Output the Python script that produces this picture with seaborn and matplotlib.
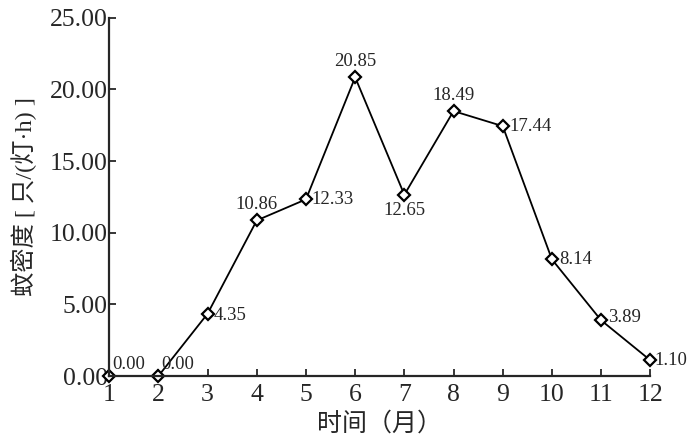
import matplotlib
matplotlib.use("Agg")
import matplotlib.pyplot as plt
import seaborn as sns
import pandas as pd

# Data
months = [1, 2, 3, 4, 5, 6, 7, 8, 9, 10, 11, 12]
density = [0.00, 0.00, 4.35, 10.86, 12.33, 20.85, 12.65, 18.49, 17.44, 8.14, 3.89, 1.10]
y_ticks = [0, 5, 10, 15, 20, 25]

# label placement per point: (dx, dy, ha, va) in points
label_pos = {
    1: (2, 2, "left", "bottom"),
    2: (2, 2, "left", "bottom"),
    3: (4, -1, "left", "center"),
    4: (0, 5, "center", "bottom"),
    5: (4, 0, "left", "center"),
    6: (0, 5, "center", "bottom"),
    7: (0, -5, "center", "top"),
    8: (0, 5, "center", "bottom"),
    9: (5, 0, "left", "center"),
    10: (5, 0, "left", "center"),
    11: (5, 2, "left", "center"),
    12: (3, 0, "left", "center"),
}

sns.set_style("ticks")
plt.rcParams["font.family"] = ["Liberation Serif", "Noto Sans CJK SC"]

df = pd.DataFrame({"month": months, "density": density})

fig = plt.figure(figsize=(7, 4.45), dpi=100)
ax = fig.add_axes([0.156, 0.155, 0.773, 0.805])

sns.lineplot(data=df, x="month", y="density", ax=ax, color="black", linewidth=1.3,
             marker="D", markersize=6, markerfacecolor="white",
             markeredgecolor="black", markeredgewidth=1.6)

for m, v in zip(months, density):
    dx, dy, ha, va = label_pos[m]
    ax.annotate(f"{v:.2f}", (m, v), xytext=(dx, dy), textcoords="offset points",
                ha=ha, va=va, fontsize=13.5)

ax.set_xlim(1, 12)
ax.set_ylim(0, 25)
ax.set_xticks(months)
ax.set_yticks(y_ticks)
ax.set_yticklabels([f"{t:.2f}" for t in y_ticks])
ax.tick_params(direction="in", length=5, width=1.3, labelsize=18.5)
ax.tick_params(axis="y", pad=1)
ax.tick_params(axis="x", pad=6)
ax.set_xlabel("时间（月）", fontsize=18, labelpad=4)
ax.set_ylabel("蚊密度 [ 只/(灯·h) ]", fontsize=17.5, labelpad=9)
for s in ["left", "bottom"]:
    ax.spines[s].set_linewidth(1.6)
sns.despine(ax=ax)
for line in ax.lines:
    line.set_clip_on(False)

fig.savefig("out.png", dpi=100)
